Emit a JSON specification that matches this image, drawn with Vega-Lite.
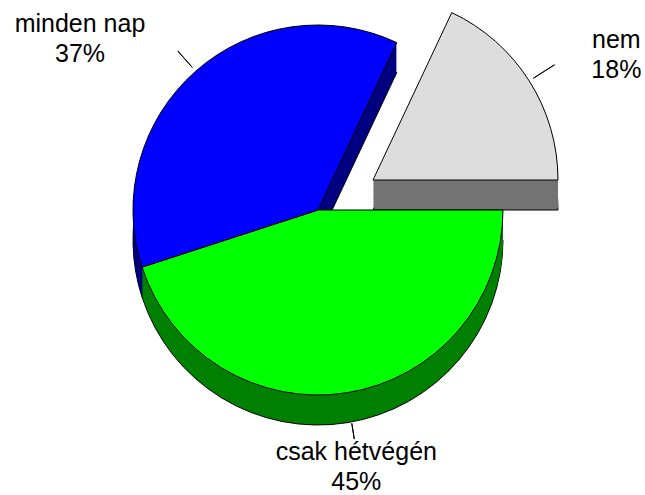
{
  "$schema": "https://vega.github.io/schema/vega-lite/v6.json",
  "width": 636,
  "height": 420,
  "autosize": "none",
  "padding": {"left": 0, "top": 0, "right": 9, "bottom": 75},
  "background": "white",
  "config": {"view": {"stroke": null}},
  "data": {
    "values": [
      {"valasz": "csak hétvégén", "pct": 45, "ord": 1, "label": "csak hétvégén\n45%"},
      {"valasz": "minden nap", "pct": 37, "ord": 2, "label": "minden nap\n37%"},
      {"valasz": "nem", "pct": 18, "ord": 3, "label": "nem\n18%"}
    ]
  },
  "transform": [
    {"stack": "pct", "groupby": [], "sort": [{"field": "ord", "order": "ascending"}], "as": ["start", "end"]},
    {"calculate": "(datum.start + datum.end) / 2", "as": "mid"}
  ],
  "layer": [
    {
      "transform": [{"filter": "datum.valasz === 'nem'"}],
      "encoding": {
        "theta": {"field": "start", "type": "quantitative", "stack": null, "scale": {"domain": [0, 100], "range": [1.5708, 7.854]}},
        "theta2": {"field": "end"},
        "color": {"field": "valasz", "type": "nominal", "legend": null, "scale": {"domain": ["csak hétvégén", "minden nap", "nem"], "range": ["#008000", "#000080", "#737373"]}}
      },
      "layer": [
        {"mark": {"type": "arc", "radius": 185, "xOffset": 55, "yOffset": 0, "stroke": "black", "strokeWidth": 1}},
        {"mark": {"type": "arc", "radius": 185, "xOffset": 55, "yOffset": -2}},
        {"mark": {"type": "arc", "radius": 185, "xOffset": 55, "yOffset": -4}},
        {"mark": {"type": "arc", "radius": 185, "xOffset": 55, "yOffset": -6}},
        {"mark": {"type": "arc", "radius": 185, "xOffset": 55, "yOffset": -8}},
        {"mark": {"type": "arc", "radius": 185, "xOffset": 55, "yOffset": -10}},
        {"mark": {"type": "arc", "radius": 185, "xOffset": 55, "yOffset": -12}},
        {"mark": {"type": "arc", "radius": 185, "xOffset": 55, "yOffset": -14}},
        {"mark": {"type": "arc", "radius": 185, "xOffset": 55, "yOffset": -16}},
        {"mark": {"type": "arc", "radius": 185, "xOffset": 55, "yOffset": -18}},
        {"mark": {"type": "arc", "radius": 185, "xOffset": 55, "yOffset": -20}},
        {"mark": {"type": "arc", "radius": 185, "xOffset": 55, "yOffset": -22}},
        {"mark": {"type": "arc", "radius": 185, "xOffset": 55, "yOffset": -24}},
        {"mark": {"type": "arc", "radius": 185, "xOffset": 55, "yOffset": -26}},
        {"mark": {"type": "arc", "radius": 185, "xOffset": 55, "yOffset": -28}}
      ]
    },
    {
      "transform": [{"filter": "datum.valasz === 'nem'"}],
      "mark": {"type": "arc", "radius": 185, "xOffset": 55, "yOffset": -30, "stroke": "black", "strokeWidth": 1},
      "encoding": {
        "theta": {"field": "start", "type": "quantitative", "stack": null, "scale": {"domain": [0, 100], "range": [1.5708, 7.854]}},
        "theta2": {"field": "end"},
        "color": {"field": "valasz", "type": "nominal", "legend": null, "scale": {"domain": ["csak hétvégén", "minden nap", "nem"], "range": ["#00FF00", "#0000FF", "#DDDDDD"]}}
      }
    },
    {
      "transform": [{"filter": "datum.valasz !== 'nem'"}],
      "encoding": {
        "theta": {"field": "start", "type": "quantitative", "stack": null, "scale": {"domain": [0, 100], "range": [1.5708, 7.854]}},
        "theta2": {"field": "end"},
        "color": {"field": "valasz", "type": "nominal", "legend": null, "scale": {"domain": ["csak hétvégén", "minden nap", "nem"], "range": ["#008000", "#000080", "#737373"]}}
      },
      "layer": [
        {"mark": {"type": "arc", "radius": 185, "yOffset": 30, "stroke": "black", "strokeWidth": 1}},
        {"mark": {"type": "arc", "radius": 185, "yOffset": 28}},
        {"mark": {"type": "arc", "radius": 185, "yOffset": 26}},
        {"mark": {"type": "arc", "radius": 185, "yOffset": 24}},
        {"mark": {"type": "arc", "radius": 185, "yOffset": 22}},
        {"mark": {"type": "arc", "radius": 185, "yOffset": 20}},
        {"mark": {"type": "arc", "radius": 185, "yOffset": 18}},
        {"mark": {"type": "arc", "radius": 185, "yOffset": 16}},
        {"mark": {"type": "arc", "radius": 185, "yOffset": 14}},
        {"mark": {"type": "arc", "radius": 185, "yOffset": 12}},
        {"mark": {"type": "arc", "radius": 185, "yOffset": 10}},
        {"mark": {"type": "arc", "radius": 185, "yOffset": 8}},
        {"mark": {"type": "arc", "radius": 185, "yOffset": 6}},
        {"mark": {"type": "arc", "radius": 185, "yOffset": 4}},
        {"mark": {"type": "arc", "radius": 185, "yOffset": 2}}
      ]
    },
    {
      "transform": [{"filter": "datum.valasz !== 'nem'"}],
      "mark": {"type": "arc", "radius": 185, "stroke": "black", "strokeWidth": 1},
      "encoding": {
        "theta": {"field": "start", "type": "quantitative", "stack": null, "scale": {"domain": [0, 100], "range": [1.5708, 7.854]}},
        "theta2": {"field": "end"},
        "color": {"field": "valasz", "type": "nominal", "legend": null, "scale": {"domain": ["csak hétvégén", "minden nap", "nem"], "range": ["#00FF00", "#0000FF", "#DDDDDD"]}}
      }
    },
    {
      "transform": [{"filter": "datum.valasz === 'minden nap'"}],
      "mark": {"type": "arc", "radius": 212, "radius2": 190, "stroke": "black", "strokeWidth": 1},
      "encoding": {
        "theta": {"field": "mid", "type": "quantitative", "stack": null, "scale": {"domain": [0, 100], "range": [1.5708, 7.854]}},
        "theta2": {"field": "mid"}
      }
    },
    {
      "transform": [{"filter": "datum.valasz === 'csak hétvégén'"}],
      "mark": {"type": "arc", "radius": 232, "radius2": 216, "stroke": "black", "strokeWidth": 1},
      "encoding": {
        "theta": {"field": "mid", "type": "quantitative", "stack": null, "scale": {"domain": [0, 100], "range": [1.5708, 7.854]}},
        "theta2": {"field": "mid"}
      }
    },
    {
      "transform": [{"filter": "datum.valasz === 'nem'"}],
      "mark": {"type": "arc", "radius": 215, "radius2": 190, "xOffset": 55, "yOffset": -30, "stroke": "black", "strokeWidth": 1},
      "encoding": {
        "theta": {"field": "mid", "type": "quantitative", "stack": null, "scale": {"domain": [0, 100], "range": [1.5708, 7.854]}},
        "theta2": {"field": "mid"}
      }
    },
    {
      "transform": [{"filter": "datum.valasz === 'minden nap'"}],
      "mark": {"type": "text", "radius": 248, "dx": -74, "font": "Liberation Sans", "fontSize": 25, "lineHeight": 30, "lineBreak": "\n", "align": "center", "baseline": "middle", "color": "black"},
      "encoding": {
        "theta": {"field": "mid", "type": "quantitative", "stack": null, "scale": {"domain": [0, 100], "range": [1.5708, 7.854]}},
        "text": {"field": "label"}
      }
    },
    {
      "transform": [{"filter": "datum.valasz === 'csak hétvégén'"}],
      "mark": {"type": "text", "radius": 245, "font": "Liberation Sans", "fontSize": 25, "lineHeight": 30, "lineBreak": "\n", "align": "center", "baseline": "middle", "color": "black"},
      "encoding": {
        "theta": {"field": "mid", "type": "quantitative", "stack": null, "scale": {"domain": [0, 100], "range": [1.5708, 7.854]}},
        "text": {"field": "label"}
      }
    },
    {
      "transform": [{"filter": "datum.valasz === 'nem'"}],
      "mark": {"type": "text", "radius": 261, "xOffset": 55, "yOffset": -30, "dx": 23, "font": "Liberation Sans", "fontSize": 25, "lineHeight": 30, "lineBreak": "\n", "align": "center", "baseline": "middle", "color": "black"},
      "encoding": {
        "theta": {"field": "mid", "type": "quantitative", "stack": null, "scale": {"domain": [0, 100], "range": [1.5708, 7.854]}},
        "text": {"field": "label"}
      }
    }
  ],
  "resolve": {"scale": {"color": "independent"}}
}
